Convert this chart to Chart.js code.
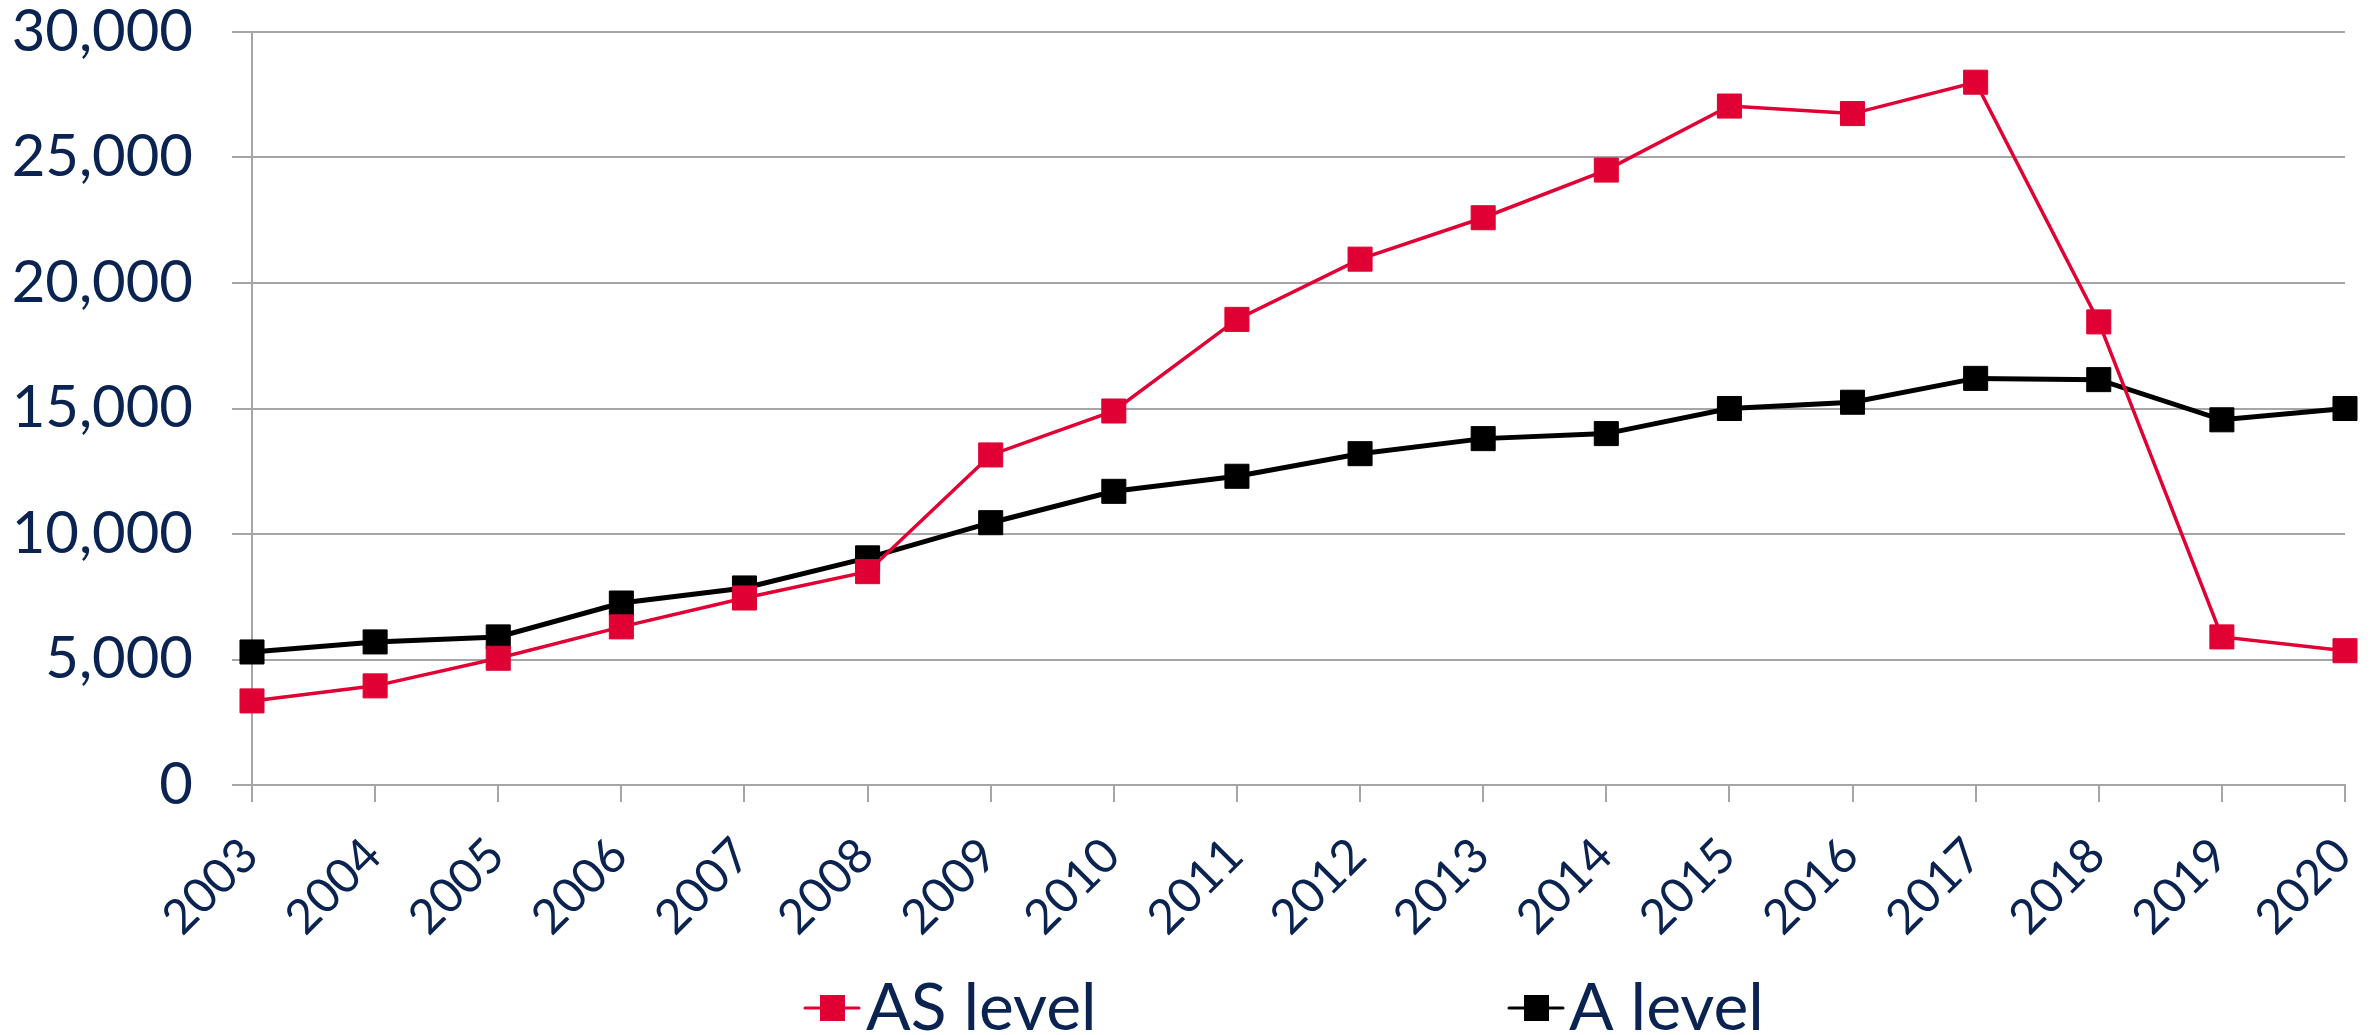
<!DOCTYPE html>
<html>
<head>
<meta charset="utf-8">
<script src="https://cdn.jsdelivr.net/npm/chart.js@4/dist/chart.umd.min.js"></script>
<style>
  html, body { margin: 0; padding: 0; background: #fff; }
  canvas { display: block; }
</style>
</head>
<body>
<canvas id="entriesChart" width="2377" height="1035"></canvas>
<script>
/* donnees */
const years = ['2003', '2004', '2005', '2006', '2007', '2008', '2009', '2010', '2011',
  '2012', '2013', '2014', '2015', '2016', '2017', '2018', '2019', '2020'];
const asLevel = [3350, 3950, 5050, 6300, 7450, 8500, 13150, 14900, 18550,
  20950, 22600, 24500, 27050, 26750, 28000, 18450, 5900, 5350];
const aLevel = [5300, 5700, 5900, 7250, 7850, 9050, 10450, 11700, 12300,
  13200, 13800, 14000, 15000, 15250, 16200, 16150, 14550, 15000];
const yTicks = [0, 5000, 10000, 15000, 20000, 25000, 30000];

const navy = '#0A2350';
const red = '#E00034';
const grey = '#A6A6A6';

/* legende dessinee a la main, facon Excel */
const legendRow = {
  id: 'legendRow',
  afterDraw(chart) {
    const ctx = chart.ctx;
    const spots = [{ x: 805, tx: 866 }, { x: 1509, tx: 1569 }];
    const y = 1008;
    ctx.save();
    chart.data.datasets.forEach((ds, i) => {
      const s = spots[i];
      ctx.strokeStyle = ds.borderColor;
      ctx.lineWidth = 3;
      ctx.lineCap = 'round';
      ctx.beginPath();
      ctx.moveTo(s.x, y);
      ctx.lineTo(s.x + 54, y);
      ctx.stroke();
      ctx.fillStyle = ds.pointBackgroundColor;
      ctx.fillRect(s.x + 15, y - 13, 25, 26);
      ctx.fillStyle = navy;
      ctx.font = '66px Lato';
      ctx.textBaseline = 'alphabetic';
      ctx.textAlign = 'left';
      ctx.fillText(ds.label, s.tx, 1030);
    });
    ctx.restore();
  }
};

new Chart(document.getElementById('entriesChart'), {
  type: 'line',
  data: {
    labels: years,
    datasets: [{
      label: 'AS level',
      data: asLevel,
      borderColor: red,
      backgroundColor: red,
      pointBackgroundColor: red,
      pointBorderColor: red,
      borderWidth: 3.5,
      pointStyle: 'rect',
      pointRadius: 17,
      pointBorderWidth: 1,
      tension: 0,
      fill: false
    }, {
      label: 'A level',
      data: aLevel,
      borderColor: '#000000',
      backgroundColor: '#000000',
      pointBackgroundColor: '#000000',
      pointBorderColor: '#000000',
      borderWidth: 5,
      pointStyle: 'rect',
      pointRadius: 17,
      pointBorderWidth: 1,
      tension: 0,
      fill: false
    }]
  },
  options: {
    responsive: false,
    animation: false,
    layout: { padding: { top: 32, right: 32, left: 0, bottom: 0 } },
    plugins: {
      legend: { display: false },
      tooltip: { enabled: false }
    },
    scales: {
      x: {
        offset: false,
        afterFit(scale) {
          scale.height = 250;
          scale.paddingLeft = 0;
          scale.paddingRight = 0;
        },
        grid: {
          drawOnChartArea: false,
          drawTicks: true,
          tickLength: 17,
          color: grey,
          lineWidth: 2
        },
        border: { display: true, color: grey, width: 2 },
        ticks: {
          color: navy,
          font: { family: 'Lato', size: 48 },
          minRotation: 45,
          maxRotation: 45,
          autoSkip: false,
          padding: 25,
          labelOffset: -2
        }
      },
      y: {
        min: 0,
        max: 30000,
        afterFit(scale) {
          scale.width = 252;
          scale.paddingTop = 0;
          scale.paddingBottom = 0;
        },
        afterBuildTicks(scale) { scale.ticks = yTicks.map(v => ({ value: v })); },
        grid: {
          color: grey,
          lineWidth: 2,
          drawTicks: true,
          tickLength: 20
        },
        border: { display: true, color: grey, width: 2 },
        ticks: {
          color: navy,
          font: { family: 'Lato', size: 58, lineHeight: 1 },
          padding: 39,
          callback: v => v.toLocaleString('en-US')
        }
      }
    }
  },
  plugins: [legendRow]
});
</script>
</body>
</html>
